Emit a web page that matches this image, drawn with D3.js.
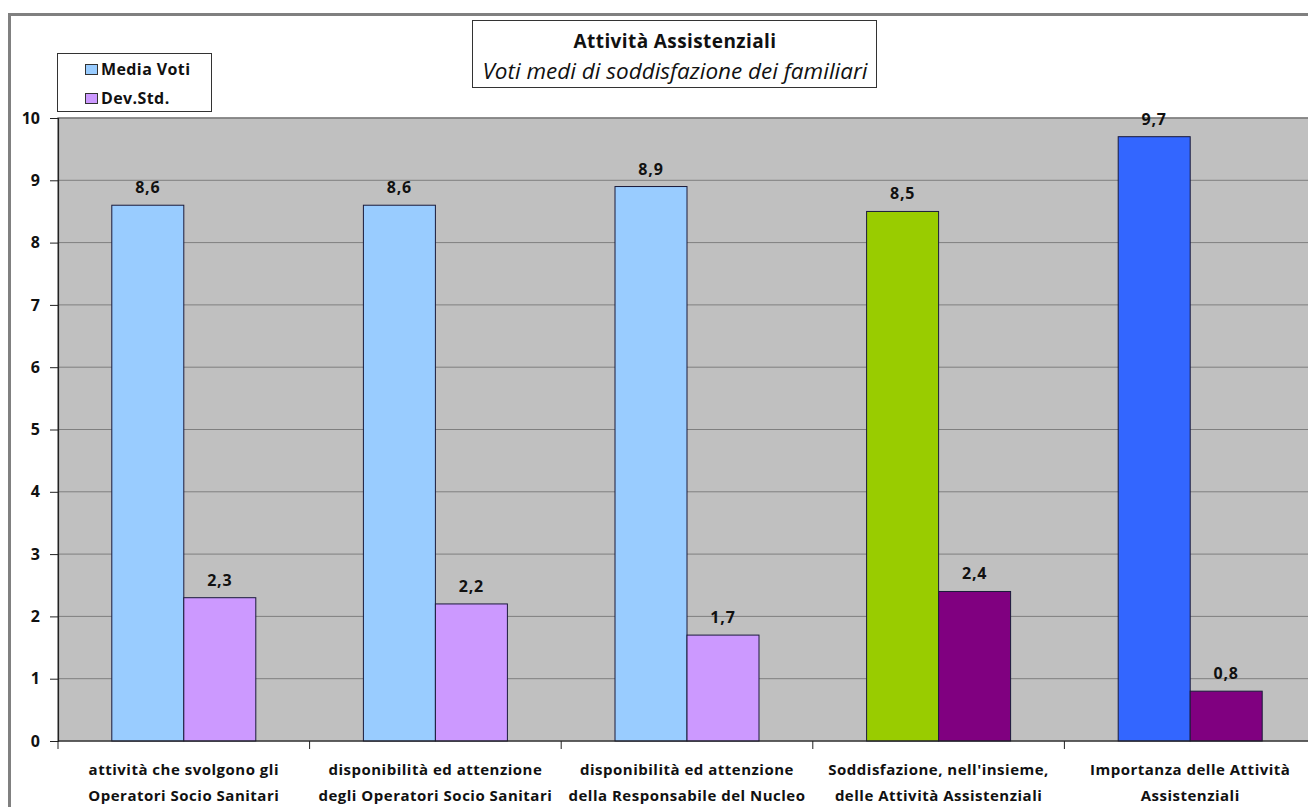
<!DOCTYPE html>
<html><head><meta charset="utf-8">
<script src="https://cdn.jsdelivr.net/npm/d3@7"></script>
<style>
html,body{margin:0;padding:0;background:#fff;}
text{font-family:"Open Sans",Lato,sans-serif;}
</style></head>
<body>
<svg id="chart" width="1308" height="807"></svg>
<script>
const categories = [
  ["attività che svolgono gli","Operatori Socio Sanitari"],
  ["disponibilità ed attenzione","degli Operatori Socio Sanitari"],
  ["disponibilità ed attenzione","della Responsabile del Nucleo"],
  ["Soddisfazione, nell'insieme,","delle Attività Assistenziali"],
  ["Importanza delle Attività","Assistenziali"]
];
const mediaVoti = [8.6, 8.6, 8.9, 8.5, 9.7];
const devStd = [2.3, 2.2, 1.7, 2.4, 0.8];
const mediaColors = ["#99CCFF","#99CCFF","#99CCFF","#99CC00","#3366FF"];
const devColors = ["#CC99FF","#CC99FF","#CC99FF","#800080","#800080"];
const yTicks = [0,1,2,3,4,5,6,7,8,9,10];
const seriesNames = ["Media Voti","Dev.Std."];
const title = "Attività Assistenziali";
const subtitle = "Voti medi di soddisfazione dei familiari";

(function(){
const svg = d3.select("#chart");
const pLeft = 58, pTop = 118, pBottom = 741;
const catW = 251.6;
const pRight = pLeft + catW * categories.length;

// outer frame
svg.append("rect").attr("x",9.5).attr("y",14.5).attr("width",1320).attr("height",820)
  .attr("fill","none").attr("stroke","#808080").attr("stroke-width",3);

const x = d3.scaleBand().domain(d3.range(categories.length)).range([pLeft, pRight]).paddingInner(0).paddingOuter(0);
const y = d3.scaleLinear().domain([0,10]).range([pBottom, pTop]);

// plot area
svg.append("rect").attr("x",pLeft).attr("y",pTop).attr("width",pRight-pLeft).attr("height",pBottom-pTop)
  .attr("fill","#C0C0C0").attr("stroke","#808080").attr("stroke-width",1.5);

// gridlines
svg.append("g").selectAll("line").data(yTicks.filter(d=>d>0)).join("line")
  .attr("x1",pLeft).attr("x2",pRight).attr("y1",d=>y(d)).attr("y2",d=>y(d))
  .attr("stroke","#7f7f7f").attr("stroke-width",1);

const barW = 72;
const offset = (catW - 2*barW)/2;

const g = svg.append("g");
g.selectAll("rect.m").data(mediaVoti).join("rect").attr("class","m")
  .attr("x",(d,i)=>x(i)+offset).attr("y",d=>y(d)).attr("width",barW).attr("height",d=>pBottom-y(d))
  .attr("fill",(d,i)=>mediaColors[i]).attr("stroke","#1a1a3a").attr("stroke-width",1);
g.selectAll("rect.s").data(devStd).join("rect").attr("class","s")
  .attr("x",(d,i)=>x(i)+offset+barW).attr("y",d=>y(d)).attr("width",barW).attr("height",d=>pBottom-y(d))
  .attr("fill",(d,i)=>devColors[i]).attr("stroke","#1a1a3a").attr("stroke-width",1);

const fmt = v => v.toFixed(1).replace(".",",");
g.selectAll("text.lm").data(mediaVoti).join("text").attr("class","lm")
  .attr("x",(d,i)=>x(i)+offset+barW/2).attr("y",d=>y(d)-12)
  .attr("text-anchor","middle").attr("font-size",16).attr("font-weight","bold")
  .attr("letter-spacing",0.8).attr("fill","#111").text(fmt);
g.selectAll("text.ls").data(devStd).join("text").attr("class","ls")
  .attr("x",(d,i)=>x(i)+offset+barW*1.5).attr("y",d=>y(d)-12)
  .attr("text-anchor","middle").attr("font-size",16).attr("font-weight","bold")
  .attr("letter-spacing",0.8).attr("fill","#111").text(fmt);

// y axis
const yAxis = d3.axisLeft(y).tickValues(yTicks).tickSize(8).tickPadding(10).tickFormat(d3.format("d"));
const ya = svg.append("g").attr("transform",`translate(${pLeft},0)`).call(yAxis);
ya.select(".domain").attr("stroke","#222").attr("stroke-width",1.2);
ya.selectAll(".tick line").attr("stroke","#222");
ya.selectAll(".tick text").attr("font-size",16).attr("font-weight","bold").attr("fill","#111")
  .attr("font-family","'Open Sans',sans-serif");

// x axis
svg.append("line").attr("x1",pLeft).attr("x2",pRight).attr("y1",pBottom).attr("y2",pBottom)
  .attr("stroke","#222").attr("stroke-width",1.2);
svg.append("g").selectAll("line").data(d3.range(categories.length+1)).join("line")
  .attr("x1",i=>pLeft+i*catW).attr("x2",i=>pLeft+i*catW).attr("y1",pBottom).attr("y2",pBottom+8)
  .attr("stroke","#222");
const xl = svg.append("g").selectAll("text").data(categories).join("text")
  .attr("x",(d,i)=>x(i)+catW/2).attr("y",775)
  .attr("text-anchor","middle").attr("font-size",15).attr("font-weight","bold")
  .attr("letter-spacing",0.5).attr("fill","#111");
xl.each(function(d){
  const t = d3.select(this);
  d.forEach((line,j)=>t.append("tspan").attr("x",t.attr("x")).attr("dy",j===0?0:26).text(line));
});

// title box
svg.append("rect").attr("x",472.5).attr("y",20.5).attr("width",404).attr("height",67)
  .attr("fill","#fff").attr("stroke","#333").attr("stroke-width",1);
svg.append("text").attr("x",675).attr("y",48).attr("text-anchor","middle")
  .attr("font-size",19).attr("font-weight","bold").attr("letter-spacing",0.4)
  .attr("fill","#111").text(title);
svg.append("text").attr("x",675).attr("y",79).attr("text-anchor","middle")
  .attr("font-size",22.5).attr("font-style","italic").attr("fill","#111").text(subtitle);

// legend
svg.append("rect").attr("x",57.5).attr("y",53.5).attr("width",154).attr("height",58)
  .attr("fill","#fff").attr("stroke","#333").attr("stroke-width",1);
const leg = svg.append("g").selectAll("g").data(seriesNames).join("g")
  .attr("transform",(d,i)=>`translate(85,${69+i*29})`);
leg.append("rect").attr("x",0.5).attr("y",-4.5).attr("width",12).attr("height",10)
  .attr("fill",(d,i)=>[mediaColors[0],devColors[0]][i]).attr("stroke","#333");
leg.append("text").attr("x",16).attr("y",5.5).attr("font-size",16).attr("font-weight","bold")
  .attr("letter-spacing",0.4).attr("fill","#111").text(d=>d);
})();
</script>
</body></html>
